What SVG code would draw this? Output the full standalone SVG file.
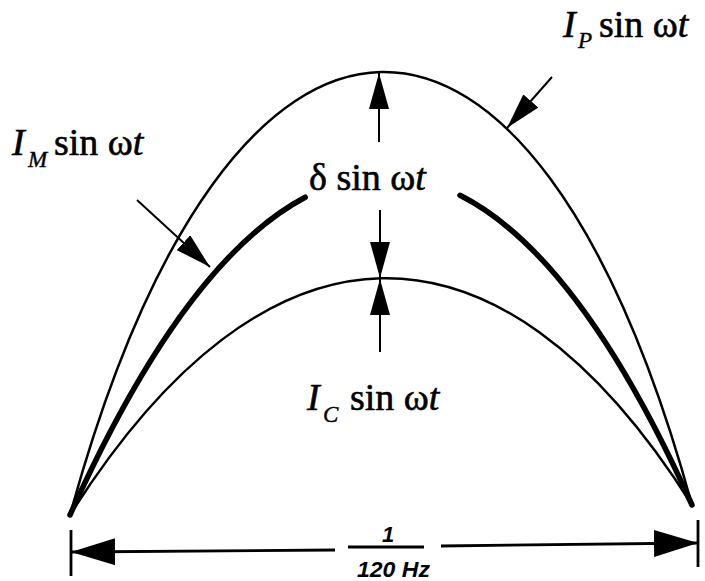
<svg xmlns="http://www.w3.org/2000/svg" width="705" height="581" viewBox="0 0 705 581">
  <style>
    .thin { fill: none; stroke: #000; stroke-width: 2.5; stroke-linecap: round; }
    .thick { fill: none; stroke: #000; stroke-width: 5.5; stroke-linecap: round; }
    .shaft { fill: none; stroke: #000; stroke-width: 2; }
    .dim { fill: none; stroke: #000; stroke-width: 2.8; }
    .lbl { font-family: "Liberation Serif", "Times New Roman", serif; font-size: 38px; fill: #000; stroke: #000; stroke-width: 0.6; }
    .it { font-style: italic; }
    .sub { font-family: "Liberation Serif", "Times New Roman", serif; font-style: italic; font-size: 23px; fill: #000; stroke: #000; stroke-width: 0.4; }
    .hz { font-family: "Liberation Sans", Arial, sans-serif; font-style: italic; font-weight: bold; font-size: 22px; fill: #000; }
  </style>
  <defs>
    <marker id="ah" markerUnits="userSpaceOnUse" markerWidth="36" markerHeight="20" refX="36" refY="10" orient="auto" viewBox="0 0 36 20">
      <path d="M0,0 L36,10 L0,20 Z" fill="#000"/>
    </marker>
    <marker id="ahBig" markerUnits="userSpaceOnUse" markerWidth="44" markerHeight="27" refX="44" refY="13.5" orient="auto" viewBox="0 0 44 27">
      <path d="M0,0 L44,13.5 L0,27 Z" fill="#000"/>
    </marker>
  </defs>

  <g id="curves">
    <path id="outer-Ip" class="thin" d="M70,515 C230,-69 532,-79 692,505"/>
    <path id="inner-Ic" class="thin" d="M70,515 C265,206 497,196 692,505"/>
    <path id="middle-Im-left" class="thick" d="M70,515 C146,345.9 225.2,239.6 305.2,197.2"/>
    <path id="middle-Im-right" class="thick" d="M460,195.3 C538.9,235.2 617,338.1 692,505"/>
  </g>

  <g id="connectors">
    <line class="shaft" x1="379" y1="142" x2="379" y2="73" marker-end="url(#ah)"/>
    <line class="shaft" x1="380" y1="210" x2="380" y2="278" marker-end="url(#ah)"/>
    <line class="shaft" x1="380" y1="352" x2="380" y2="279" marker-end="url(#ah)"/>
    <line class="shaft" x1="552" y1="77" x2="507" y2="128" marker-end="url(#ah)"/>
    <line class="shaft" x1="137" y1="200" x2="210" y2="267" marker-end="url(#ah)"/>
  </g>

  <g id="dimension">
    <line class="dim" x1="71" y1="530" x2="71" y2="576"/>
    <line class="dim" x1="698" y1="520" x2="698" y2="567"/>
    <line class="dim" x1="335" y1="550" x2="71" y2="552" marker-end="url(#ahBig)"/>
    <line class="dim" x1="441" y1="546" x2="698" y2="543" marker-end="url(#ahBig)"/>
    <line class="dim" x1="348" y1="547" x2="424" y2="547"/>
    <text class="hz" x="388" y="542" text-anchor="middle" font-size="24">1</text>
    <text class="hz" x="357" y="577" textLength="73" lengthAdjust="spacingAndGlyphs">120 Hz</text>
  </g>

  <g id="label-Ip">
    <text class="lbl it" x="563" y="37">I</text>
    <text class="sub" x="578" y="48">P</text>
    <text class="lbl" x="599" y="37">sin ω<tspan class="it">t</tspan></text>
  </g>
  <g id="label-Im">
    <text class="lbl it" x="12" y="155">I</text>
    <text class="sub" x="28" y="167">M</text>
    <text class="lbl" x="54" y="155">sin ω<tspan class="it">t</tspan></text>
  </g>
  <g id="label-delta">
    <text class="lbl" x="309" y="190">δ sin ω<tspan class="it">t</tspan></text>
  </g>
  <g id="label-Ic">
    <text class="lbl it" x="307" y="410">I</text>
    <text class="sub" x="323" y="422">C</text>
    <text class="lbl" x="350" y="410">sin ω<tspan class="it">t</tspan></text>
  </g>
</svg>
